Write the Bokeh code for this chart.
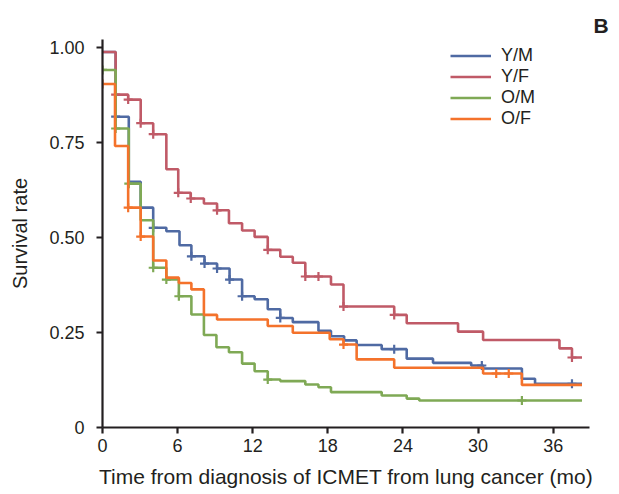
import numpy as np
from bokeh.plotting import figure
from bokeh.models import Legend, LegendItem, Title, FixedTicker, Range1d
from bokeh.embed import file_html
from bokeh.resources import INLINE

FONT = "Liberation Sans"
TEXT_COLOR = "#231f20"

groups = ["Y/M", "Y/F", "O/M", "O/F"]
colors = ["#4f6aa3", "#c05a67", "#7fa955", "#f4722b"]
end_time = 38.3

# Y/M
ym_t = [0, 1.05, 2.1, 3.05, 4.05, 5.1, 6.15, 7.1, 8.15, 9.15, 10.15, 11.15, 12.15, 13.2,
        14.2, 15.2, 17.25, 18.25, 19.3, 20.3, 22.3, 24.3, 26.4, 29.45, 30.4, 33.5, 34.55]
ym_s = [0.987, 0.817, 0.646, 0.578, 0.525, 0.516, 0.479, 0.450, 0.431, 0.418, 0.389, 0.345,
        0.337, 0.311, 0.288, 0.277, 0.254, 0.240, 0.229, 0.217, 0.206, 0.181, 0.170, 0.163,
        0.155, 0.128, 0.115]
ym_c = [1.05, 4.05, 7.1, 8.15, 9.15, 10.15, 11.15, 14.2, 23.3, 30.3, 37.5]

# Y/F
yf_t = [0, 1.05, 2.05, 3.05, 4.05, 5.1, 6.05, 7.05, 8.1, 9.15, 10.1, 11.15, 12.15, 13.2,
        14.2, 15.2, 16.2, 18.25, 19.25, 23.3, 24.3, 28.4, 30.4, 36.5, 37.5]
yf_s = [0.987, 0.875, 0.862, 0.800, 0.771, 0.679, 0.617, 0.602, 0.589, 0.571, 0.537, 0.518,
        0.501, 0.467, 0.449, 0.433, 0.397, 0.376, 0.318, 0.296, 0.274, 0.252, 0.230, 0.208,
        0.184]
yf_c = [1.05, 2.05, 3.05, 4.05, 6.05, 7.05, 9.15, 13.2, 16.2, 17.25, 19.25, 23.3, 37.5]

# O/M
om_t = [0, 1.05, 2.1, 3.05, 4.05, 5.1, 6.1, 7.1, 8.1, 9.1, 10.1, 11.15, 12.15, 13.2, 14.2,
        16.2, 17.25, 18.25, 22.3, 24.3, 25.3]
om_s = [0.940, 0.786, 0.641, 0.545, 0.420, 0.389, 0.345, 0.297, 0.243, 0.211, 0.198, 0.168,
        0.148, 0.126, 0.122, 0.113, 0.106, 0.093, 0.084, 0.076, 0.071]
om_c = [0, 1.05, 2.1, 4.05, 5.1, 6.1, 13.2, 33.5]

# O/F
of_t = [0, 1.0, 2.05, 3.05, 4.05, 5.1, 6.1, 7.1, 8.1, 9.15, 13.2, 15.2, 18.15, 19.25, 20.3,
        23.3, 30.4, 33.5]
of_s = [0.903, 0.740, 0.578, 0.502, 0.439, 0.394, 0.380, 0.363, 0.296, 0.284, 0.267, 0.249,
        0.232, 0.218, 0.179, 0.157, 0.142, 0.112]
of_c = [0, 2.05, 3.05, 19.25, 31.45, 32.45]

x_ticks = [0, 6, 12, 18, 24, 30, 36]
y_ticks = [0, 0.25, 0.5, 0.75, 1.0]
y_tick_labels = ["0", "0.25", "0.50", "0.75", "1.00"]

series = [(ym_t, ym_s, ym_c), (yf_t, yf_s, yf_c), (om_t, om_s, om_c), (of_t, of_s, of_c)]

p = figure(frame_width=487, frame_height=388, output_backend="svg", toolbar_location=None,
           x_range=Range1d(0, 38.9), y_range=Range1d(0, 1.02),
           min_border_left=102, min_border_right=21, min_border_top=39, min_border_bottom=60)
p.outline_line_color = None
p.xgrid.visible = False
p.ygrid.visible = False
p.background_fill_color = "white"
p.border_fill_color = "white"


def step_val(times, surv, t):
    idx = int(np.searchsorted(np.asarray(times), t, side="right")) - 1
    return surv[idx]


items = []
for name, color, (t, s, c) in zip(groups, colors, series):
    xs = list(t) + [end_time]
    ys = list(s) + [s[-1]]
    r = p.step(xs, ys, mode="after", line_color=color, line_width=2.6)
    cy = [step_val(t, s, ci) for ci in c]
    p.scatter(c, cy, marker="cross", size=9, line_color=color, line_width=2.2)
    items.append(LegendItem(label=name, renderers=[r]))

legend = Legend(items=items, location=(348, 298), padding=0, margin=0, spacing=0,
                glyph_height=21, glyph_width=41, label_height=21, label_standoff=10,
                label_text_font=FONT, label_text_font_size="18px",
                label_text_color=TEXT_COLOR, border_line_color=None,
                background_fill_alpha=0)
p.add_layout(legend)

for ax in (p.xaxis[0], p.yaxis[0]):
    ax.axis_line_width = 2.2
    ax.axis_line_color = TEXT_COLOR
    ax.major_tick_line_width = 2.2
    ax.major_tick_line_color = TEXT_COLOR
    ax.major_tick_out = 6
    ax.major_tick_in = 0
    ax.minor_tick_out = 0
    ax.minor_tick_in = 0
    ax.major_label_text_font = FONT
    ax.major_label_text_font_size = "18px"
    ax.major_label_text_color = TEXT_COLOR
    ax.axis_label_text_font = FONT
    ax.axis_label_text_font_size = "21px"
    ax.axis_label_text_font_style = "normal"
    ax.axis_label_text_color = TEXT_COLOR

p.yaxis.axis_label_text_font_size = "20px"
p.xaxis.ticker = FixedTicker(ticks=x_ticks)
p.yaxis.ticker = FixedTicker(ticks=y_ticks)
p.yaxis.major_label_overrides = {v: l for v, l in zip(y_ticks, y_tick_labels)}
p.xaxis.axis_label = "Time from diagnosis of ICMET from lung cancer (mo)"
p.yaxis.axis_label = "Survival rate"
p.xaxis.major_label_standoff = 5
p.xaxis.axis_label_standoff = 10
p.yaxis.major_label_standoff = 12
p.yaxis.axis_label_standoff = 15

p.add_layout(Title(text="B", align="left", offset=491, standoff=5,
                   text_font=FONT, text_font_style="bold",
                   text_font_size="21px", text_color=TEXT_COLOR), "above")

open("out.html", "w").write(file_html(p, INLINE))
